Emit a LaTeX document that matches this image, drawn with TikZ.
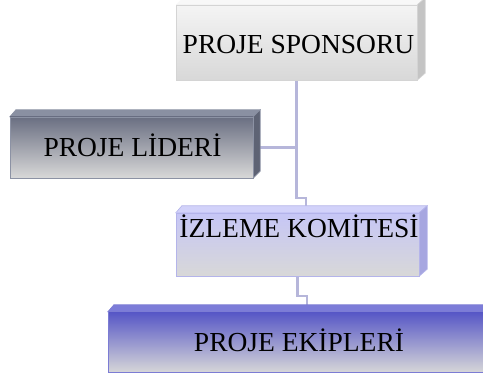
\documentclass[tikz,border=0pt]{standalone}
\usepackage{fontspec}
\setmainfont{Liberation Serif}
\usetikzlibrary{calc}
\begin{document}
\begin{tikzpicture}[x=1pt,y=-1pt,
  face/.style={rectangle, inner sep=0pt, minimum width=#1},
  lbl/.style={inner sep=0pt, anchor=base, font=\fontsize{27.5}{30}\selectfont, text=black},
  conn/.style={draw=linkc, line width=2.6pt},
  edge/.style={line width=0.6pt}]
\definecolor{linkc}{HTML}{B6B6DA}
\definecolor{sTop}{HTML}{F4F4F4}\definecolor{sBot}{HTML}{D8D8D8}\definecolor{sSide}{HTML}{C4C4C4}\definecolor{sLine}{HTML}{D4D4D4}
\definecolor{lTop}{HTML}{6A6F82}\definecolor{lBot}{HTML}{D8D8D8}\definecolor{lSide}{HTML}{5E6374}\definecolor{lLid}{HTML}{8A90A2}\definecolor{lLine}{HTML}{8C92A4}
\definecolor{kTop}{HTML}{C6C6F6}\definecolor{kBot}{HTML}{D8D8D8}\definecolor{kSide}{HTML}{A6A6E0}\definecolor{kLid}{HTML}{D2D2FA}\definecolor{kLine}{HTML}{B4B4EA}
\definecolor{eTop}{HTML}{5656C6}\definecolor{eBot}{HTML}{D8D8D8}\definecolor{eLid}{HTML}{7C7CD8}\definecolor{eLine}{HTML}{7C7CD4}
\useasboundingbox (0,0) rectangle (483,377);
\clip (0,0) rectangle (483,377);
% front faces (positions only, drawn later)
\node[face=241pt, minimum height=75pt] (s) at (296.5,42.5) {};
\node[face=243pt, minimum height=61pt] (l) at (131.5,147.5) {};
\node[face=243pt, minimum height=63pt] (k) at (297.5,244.5) {};
\node[face=382pt, minimum height=61pt] (e) at (299,342.5) {};
\coordinate (j1) at (306,198);
\coordinate (j2) at (307,296);
% connectors
\draw[conn] (s.south) |- (j1) -- (j1 |- k.north);
\draw[conn] (l.east) -- (l.east -| s.south);
\draw[conn] (k.south) |- (j2) -- (j2 |- e.north);
% box 1
\fill[sTop!60!white] (s.north west) -- ++(7,-7) -- ($(s.north east)+(8,-7)$) -- (s.north east) -- cycle;
\filldraw[fill=sSide, draw=sLine, edge] (s.north east) -- ++(8,-7) -- ($(s.south east)+(8,-7)$) -- (s.south east) -- cycle;
\node[face=241pt, minimum height=75pt, top color=sTop, bottom color=sBot, draw=sLine, edge] at (s) {};
% box 2
\filldraw[fill=lLid, draw=lLine, edge] (l.north west) -- ++(6,-7) -- ($(l.north east)+(7,-7)$) -- (l.north east) -- cycle;
\filldraw[fill=lSide, draw=lLine, edge] (l.north east) -- ++(7,-7) -- ($(l.south east)+(7,-7)$) -- (l.south east) -- cycle;
\node[face=243pt, minimum height=61pt, top color=lTop, bottom color=lBot, draw=lLine, edge] at (l) {};
% box 3
\filldraw[fill=kLid, draw=kLine, edge] (k.north west) -- ++(6,-7) -- ($(k.north east)+(8,-7)$) -- (k.north east) -- cycle;
\filldraw[fill=kSide, draw=kLine, edge] (k.north east) -- ++(8,-7) -- ($(k.south east)+(8,-7)$) -- (k.south east) -- cycle;
\node[face=243pt, minimum height=63pt, top color=kTop, bottom color=kBot, draw=kLine, edge] at (k) {};
% box 4
\filldraw[fill=eLid, draw=eLine, edge] (e.north west) -- ++(6,-7) -- ($(e.north east)+(8,-7)$) -- (e.north east) -- cycle;
\node[face=382pt, minimum height=61pt, top color=eTop, bottom color=eBot, draw=eLine, line width=1pt] at (e) {};
% labels
\node[lbl] (ts) at (298.5,54) {PROJE SPONSORU};
\node[lbl] (tl) at (132.5,157) {PROJE LİDERİ};
\node[lbl] (tk) at (299,238) {İZLEME KOMİTESİ};
\node[lbl] (te) at (299,352) {PROJE EKİPLERİ};
\end{tikzpicture}
\end{document}
